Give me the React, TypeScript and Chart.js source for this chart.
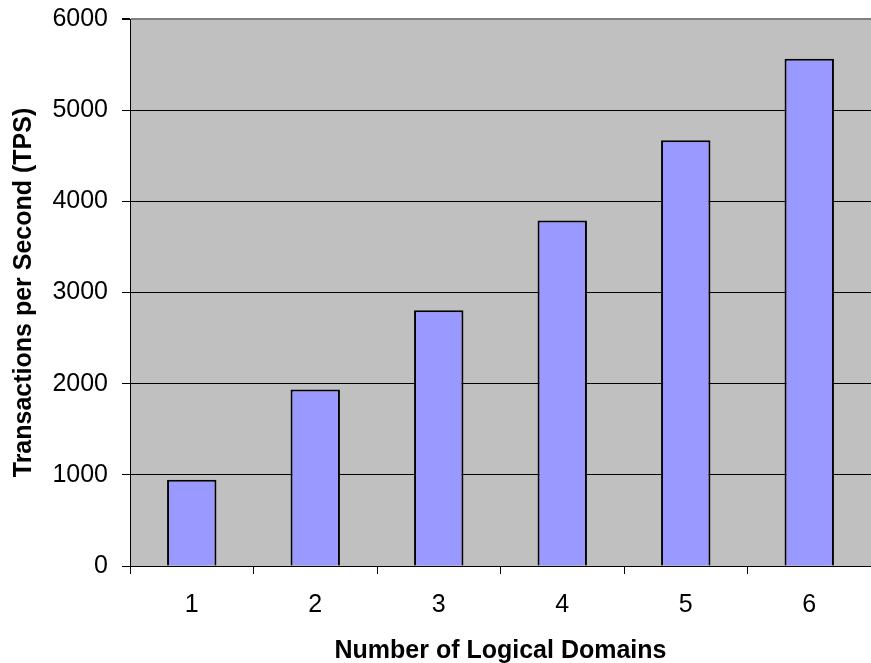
import React, { useEffect, useRef } from "react";
import { Chart, registerables } from "chart.js";

Chart.register(...registerables);

const categories = ["1", "2", "3", "4", "5", "6"];
const tpsValues = [945, 1935, 2805, 3790, 4670, 5565];
const yTicks = [0, 1000, 2000, 3000, 4000, 5000, 6000];

const plotBg = {
  id: "plotBg",
  beforeDraw(chart: any) {
    const { ctx, chartArea } = chart;
    if (!chartArea) return;
    ctx.save();
    ctx.fillStyle = "#c0c0c0";
    ctx.fillRect(chartArea.left, chartArea.top, chartArea.right - chartArea.left, chartArea.bottom - chartArea.top);
    ctx.restore();
  },
};

export default function App() {
  const ref = useRef<HTMLCanvasElement | null>(null);
  useEffect(() => {
    document.body.style.margin = "0";
    const font = "'Liberation Sans', Arial, sans-serif";
    const chart = new Chart(ref.current as HTMLCanvasElement, {
      type: "bar",
      data: {
        labels: categories,
        datasets: [
          {
            data: tpsValues,
            backgroundColor: "#9999ff",
            borderColor: "#000000",
            borderWidth: 2,
            borderSkipped: "bottom",
            barPercentage: 0.4,
            categoryPercentage: 1,
          },
        ],
      },
      options: {
        animation: false,
        responsive: false,
        maintainAspectRatio: false,
        layout: { padding: { left: 0, right: 0, top: 0, bottom: 0 } },
        plugins: { legend: { display: false }, tooltip: { enabled: false } },
        scales: {
          x: {
            offset: true,
            afterFit: (axis: any) => {
              axis.height = 97;
            },
            grid: {
              offset: true,
              drawOnChartArea: false,
              drawTicks: true,
              tickLength: 8,
              tickColor: "#000",
            },
            border: { display: true, color: "#000", width: 1 },
            ticks: { color: "#000", font: { family: font, size: 25 }, padding: 16 },
            title: {
              display: true,
              text: "Number of Logical Domains",
              color: "#000",
              font: { family: font, size: 25, weight: "bold" },
              padding: { top: 0, bottom: -3 },
            },
          },
          y: {
            min: 0,
            max: 6000,
            afterBuildTicks: (axis: any) => {
              axis.ticks = yTicks.map((v) => ({ value: v }));
            },
            afterFit: (axis: any) => {
              axis.width = 130;
              axis.paddingTop = 19;
              axis.paddingBottom = 0;
            },
            grid: {
              color: (c: any) => (c.tick && c.tick.value === 6000 ? "#808080" : "#000"),
              lineWidth: (c: any) => (c.tick && c.tick.value === 6000 ? 2 : 1),
              tickLength: 8,
              tickColor: "#000",
            },
            border: { display: true, color: "#000", width: 1 },
            ticks: {
              color: "#000",
              font: { family: font, size: 25 },
              padding: 14,
              callback: (v: any) => String(v),
            },
            title: {
              display: true,
              text: "Transactions per Second (TPS)",
              color: "#000",
              font: { family: font, size: 25, weight: "bold" },
              padding: { top: 9, bottom: 0 },
            },
          },
        },
      },
      plugins: [plotBg],
    });
    return () => chart.destroy();
  }, []);
  return (
    <div style={{ width: 871, height: 663 }}>
      <canvas ref={ref} width={871} height={663} style={{ display: "block" }} />
    </div>
  );
}
